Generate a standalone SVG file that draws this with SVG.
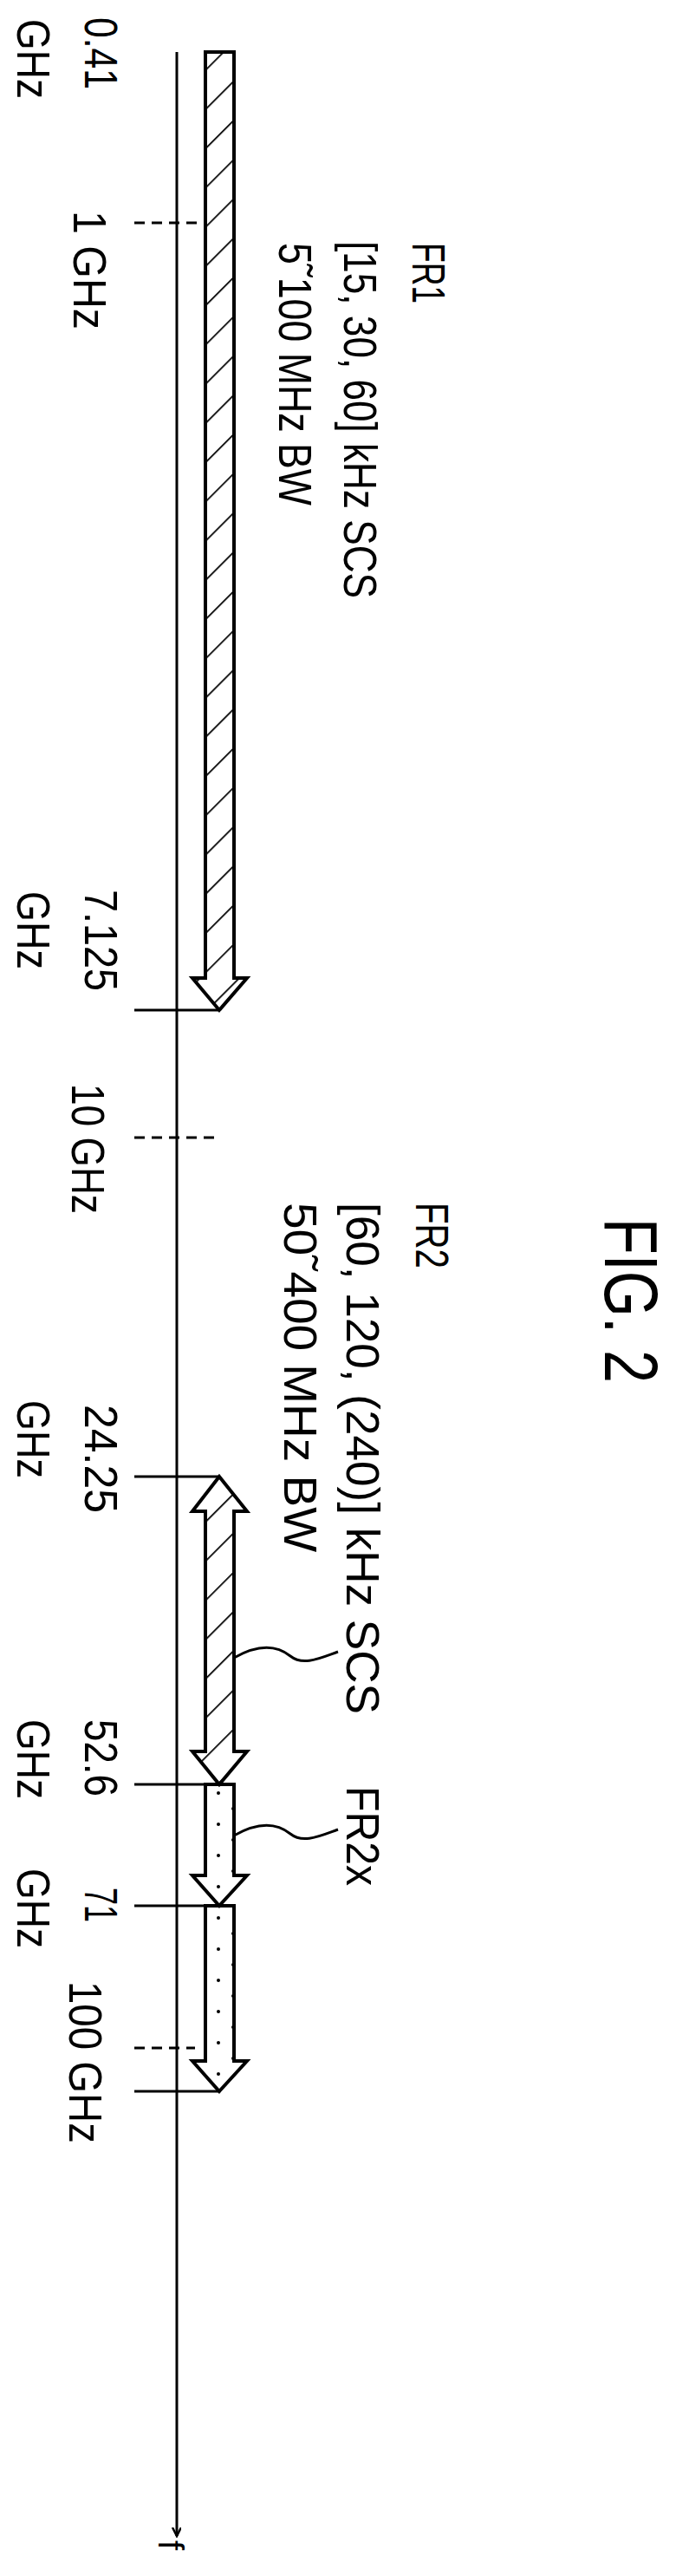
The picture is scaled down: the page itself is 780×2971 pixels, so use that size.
<svg xmlns="http://www.w3.org/2000/svg" width="780" height="2971" viewBox="0 0 780 2971">
<style>
text{font-family:"Liberation Sans",Arial,sans-serif;font-size:53px;fill:#000}
.ln{stroke:#000;stroke-width:3;fill:none}
.dash{stroke:#000;stroke-width:3;stroke-dasharray:12,8;fill:none}
.bar{stroke:#000;stroke-width:4}
</style>
<defs>
<pattern id="hatch" patternUnits="userSpaceOnUse" width="32" height="32" patternTransform="rotate(45)">
<line x1="0" y1="0" x2="0" y2="32" stroke="#000" stroke-width="3.5"/>
</pattern>
<pattern id="dots" patternUnits="userSpaceOnUse" x="0" y="2058" width="40" height="36">
<circle cx="12" cy="10" r="2" fill="#000"/>
<circle cx="29" cy="28" r="2" fill="#000"/>
</pattern>
<marker id="open" markerWidth="12" markerHeight="12" refX="10" refY="5" orient="auto" markerUnits="userSpaceOnUse">
<path d="M0,0 L10,5 L0,10" fill="none" stroke="#000" stroke-width="2.5"/>
</marker>
</defs>
<g id="connectors">
<line class="ln" x1="204" y1="60" x2="204" y2="2925" marker-end="url(#open)"/>
<line class="dash" x1="155" y1="257" x2="235" y2="257"/>
<line class="ln" x1="155" y1="1165" x2="253" y2="1165"/>
<line class="dash" x1="155" y1="1312" x2="253" y2="1312"/>
<line class="ln" x1="155" y1="1703" x2="253" y2="1703"/>
<line class="ln" x1="155" y1="2058" x2="270" y2="2058"/>
<line class="ln" x1="155" y1="2198" x2="270" y2="2198"/>
<line class="dash" x1="155" y1="2362" x2="225" y2="2362"/>
<line class="ln" x1="155" y1="2412" x2="253" y2="2412"/>
<path class="ln" stroke-width="2" d="M270,1912 C300,1895 320,1898 335,1910 C350,1922 370,1912 390,1905"/>
<path class="ln" stroke-width="2" d="M270,2117 C300,2100 320,2103 335,2115 C350,2127 370,2117 390,2110"/>
</g>
<g id="fr1-bar">
<polygon class="bar" fill="url(#hatch)" points="237,60 270,60 270,1128 285,1128 253,1165 222,1128 237,1128"/>
</g>
<g id="fr2-bar">
<polygon class="bar" fill="url(#hatch)" points="253,1703 285,1743 270,1743 270,2020 285,2020 253,2058 222,2020 237,2020 237,1743 222,1743"/>
</g>
<g id="fr2x-bar">
<polygon class="bar" fill="url(#dots)" points="237,2058 270,2058 270,2163 285,2163 253,2198 222,2163 237,2163"/>
<polygon class="bar" fill="url(#dots)" points="237,2198 270,2198 270,2377 285,2377 253,2412 222,2377 237,2377"/>
</g>
<g id="labels">
<text transform="translate(98,20) rotate(90)" textLength="83" lengthAdjust="spacingAndGlyphs">0.41</text>
<text transform="translate(20,22) rotate(90)" textLength="92" lengthAdjust="spacingAndGlyphs">GHz</text>
<text transform="translate(85,243) rotate(90)" textLength="137" lengthAdjust="spacingAndGlyphs">1 GHz</text>
<text transform="translate(476,280) rotate(90)" textLength="70" lengthAdjust="spacingAndGlyphs">FR1</text>
<text transform="translate(397,278) rotate(90)" textLength="412" lengthAdjust="spacingAndGlyphs">[15, 30, 60] kHz SCS</text>
<text transform="translate(322,280) rotate(90)" textLength="303" lengthAdjust="spacingAndGlyphs">5˜100 MHz BW</text>
<text transform="translate(98,1026) rotate(90)" textLength="117" lengthAdjust="spacingAndGlyphs">7.125</text>
<text transform="translate(20,1028) rotate(90)" textLength="90" lengthAdjust="spacingAndGlyphs">GHz</text>
<text transform="translate(83,1250) rotate(90)" textLength="150" lengthAdjust="spacingAndGlyphs">10 GHz</text>
<text transform="translate(98,1620) rotate(90)" textLength="125" lengthAdjust="spacingAndGlyphs">24.25</text>
<text transform="translate(20,1615) rotate(90)" textLength="90" lengthAdjust="spacingAndGlyphs">GHz</text>
<text transform="translate(98,1983) rotate(90)" textLength="89" lengthAdjust="spacingAndGlyphs">52.6</text>
<text transform="translate(20,1983) rotate(90)" textLength="92" lengthAdjust="spacingAndGlyphs">GHz</text>
<text transform="translate(98,2177) rotate(90)" textLength="40" lengthAdjust="spacingAndGlyphs">71</text>
<text transform="translate(20,2155) rotate(90)" textLength="92" lengthAdjust="spacingAndGlyphs">GHz</text>
<text transform="translate(80,2285) rotate(90)" textLength="187" lengthAdjust="spacingAndGlyphs">100 GHz</text>
<text transform="translate(480,1387) rotate(90)" textLength="76" lengthAdjust="spacingAndGlyphs">FR2</text>
<text transform="translate(400,1387) rotate(90)" textLength="590" lengthAdjust="spacingAndGlyphs">[60, 120, (240)] kHz SCS</text>
<text transform="translate(328,1387) rotate(90)" textLength="403" lengthAdjust="spacingAndGlyphs">50˜400 MHz BW</text>
<text transform="translate(400,2060) rotate(90)" textLength="115" lengthAdjust="spacingAndGlyphs">FR2x</text>
<text transform="translate(698,1405) rotate(90)" style="font-size:88px" textLength="190" lengthAdjust="spacingAndGlyphs">FIG. 2</text>
<text transform="translate(183,2930) rotate(90)" style="font-size:40px">f</text>
</g>
</svg>
